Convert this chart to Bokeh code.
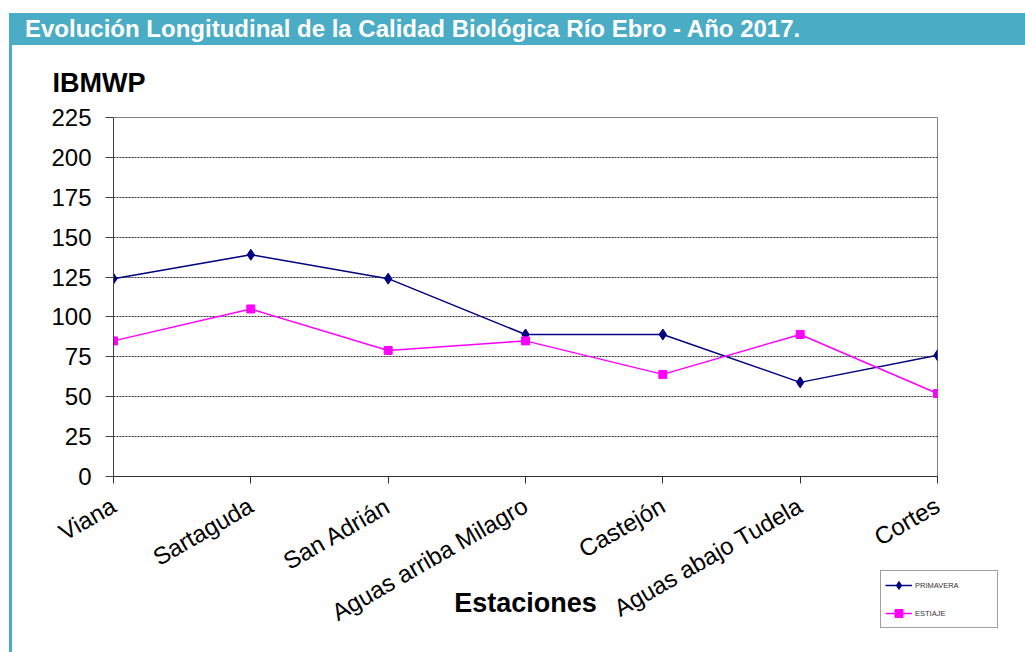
import math
from bokeh.plotting import figure
from bokeh.layouts import column, row
from bokeh.models import Range1d, FixedTicker, Legend, LegendItem, Div
from bokeh.embed import file_html
from bokeh.resources import INLINE

# ---- data ----
stations = ["Viana", "Sartaguda", "San Adrián", "Aguas arriba Milagro",
            "Castejón", "Aguas abajo Tudela", "Cortes"]
primavera = [124, 139, 124, 89, 89, 59, 76]
estiaje = [85, 105, 79, 85, 64, 89, 52]
y_ticks = [0, 25, 50, 75, 100, 125, 150, 175, 200, 225]
series_names = ["PRIMAVERA", "ESTIAJE"]
title_text = "Evolución Longitudinal de la Calidad Biológica Río Ebro - Año 2017."
y_title = "IBMWP"
x_title = "Estaciones"

FONT = "Liberation Sans"
TEAL = "#4BACC6"
W, H = 1025, 652
HEADER_TOP = 13
HEADER_H = 32
LEFT_GAP = 9
STRIP_W = 3
MAIN_H = H - HEADER_TOP - HEADER_H
MAIN_W = W - LEFT_GAP - STRIP_W
BORDER_L, BORDER_R, BORDER_T, BORDER_B = 101, 88, 72, 176

# ---- header bar (HTML) ----
hdr = Div(text=('<div style="font-family:\'Liberation Sans\',Arial,sans-serif;font-weight:bold;'
                'font-size:24px;color:white;padding-left:16px;line-height:31px;'
                'white-space:nowrap;">' + title_text + '</div>'),
          width=W - LEFT_GAP, height=HEADER_H, margin=(HEADER_TOP, 0, 0, LEFT_GAP),
          styles={"background-color": TEAL})

# ---- left border strip ----
strip = Div(text="", width=STRIP_W, height=MAIN_H, margin=(0, 0, 0, LEFT_GAP),
            styles={"background-color": TEAL})

# ---- main chart ----
x = list(range(len(stations)))
p = figure(frame_width=MAIN_W - BORDER_L - BORDER_R, frame_height=MAIN_H - BORDER_T - BORDER_B,
           output_backend="svg", toolbar_location=None,
           x_range=Range1d(0, len(stations) - 1), y_range=Range1d(y_ticks[0], y_ticks[-1]),
           min_border_left=BORDER_L, min_border_right=BORDER_R,
           min_border_top=BORDER_T, min_border_bottom=BORDER_B, margin=0)
p.background_fill_color = "white"
p.border_fill_color = "white"
p.outline_line_color = "#808080"

p.title.text = y_title
p.title.align = "left"
p.title.offset = -61
p.title.standoff = 39
p.title.text_font = FONT
p.title.text_font_size = "27px"
p.title.text_font_style = "bold"
p.title.text_color = "black"

p.xaxis.ticker = FixedTicker(ticks=x)
p.xaxis.major_label_overrides = {i: s for i, s in enumerate(stations)}
p.xaxis.major_label_orientation = math.pi / 6
p.xaxis.major_label_text_font = FONT
p.xaxis.major_label_text_font_size = "24px"
p.xaxis.major_label_text_color = "black"
p.xaxis.major_label_standoff = 20
p.xaxis.major_tick_in = 0
p.xaxis.major_tick_out = 7
p.xaxis.minor_tick_line_color = None
p.xaxis.axis_line_color = "#303030"
p.xaxis.major_tick_line_color = "#303030"
p.xaxis.axis_label = x_title
p.xaxis.axis_label_text_font = FONT
p.xaxis.axis_label_text_font_size = "27px"
p.xaxis.axis_label_text_font_style = "bold"
p.xaxis.axis_label_text_color = "black"
p.xaxis.axis_label_standoff = -53

p.yaxis.ticker = FixedTicker(ticks=y_ticks)
p.yaxis.major_label_text_font = FONT
p.yaxis.major_label_text_font_size = "24px"
p.yaxis.major_label_text_color = "black"
p.yaxis.major_label_standoff = 14
p.yaxis.major_tick_in = 0
p.yaxis.major_tick_out = 8
p.yaxis.minor_tick_line_color = None
p.yaxis.axis_line_color = "#404040"
p.yaxis.major_tick_line_color = "#404040"

p.xgrid.visible = False
p.ygrid.ticker = FixedTicker(ticks=y_ticks)
p.ygrid.grid_line_color = "#333333"
p.ygrid.grid_line_dash = "2 1"

r1 = p.line(x, primavera, line_color="#000080", line_width=1.5)
m1 = p.scatter(x, primavera, marker="diamond", size=11, fill_color="#000080", line_color="#000080")
r2 = p.line(x, estiaje, line_color="#FF00FF", line_width=1.5)
m2 = p.scatter(x, estiaje, marker="square", size=8, fill_color="#FF00FF", line_color="#FF00FF")

legend = Legend(items=[LegendItem(label=series_names[0], renderers=[r1, m1]),
                       LegendItem(label=series_names[1], renderers=[r2, m2])],
                location=(-57, -152), padding=4, spacing=8, margin=-15,
                glyph_width=27, glyph_height=20, label_height=20, label_width=78,
                label_standoff=3, label_text_font=FONT, label_text_font_size="7.5px",
                label_text_color="#333333", border_line_color="#404040", border_line_width=1,
                background_fill_color="white", background_fill_alpha=1)
p.add_layout(legend, "right")

layout = column(hdr, row(strip, p, spacing=0), spacing=0)
open("out.html", "w").write(file_html(layout, INLINE))
